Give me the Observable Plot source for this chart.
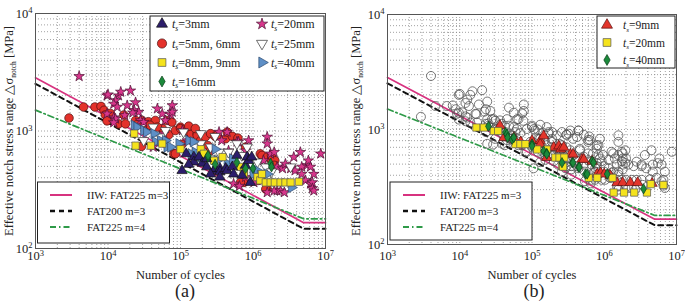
<!DOCTYPE html>
<html><head><meta charset="utf-8">
<script src="https://cdn.jsdelivr.net/npm/d3@7"></script>
<script src="https://cdn.jsdelivr.net/npm/@observablehq/plot@0.6"></script>
<style>
body{margin:0;background:#fff;font-family:"Liberation Serif","Times New Roman",serif;color:#222}
#fig{position:relative;width:685px;height:305px;overflow:hidden}
.panel{position:absolute;top:0}
.panel text{font-family:"Liberation Serif","Times New Roman",serif}
.cap{position:absolute;top:281px;width:100px;text-align:center;font-size:18px;line-height:20px}
</style></head>
<body><div id="fig"></div>
<script>
// ---------- axis ticks ----------
const xTicks = [1e3, 1e4, 1e5, 1e6, 1e7];
const yTicks = [1e2, 1e3, 1e4];

// ---------- design curves (N, stress range) ----------
const iiwFat225m3 = [[1e3, 2835], [5e6, 166], [1e7, 166]];
const fat200m3   = [[1e3, 2520], [5e6, 147], [1e7, 147]];
const fat225m4   = [[1e3, 1505], [5e6, 179], [1e7, 179]];
const curveLabels = ["IIW: FAT225 m=3", "FAT200 m=3", "FAT225 m=4"];

// ---------- panel (a) data: [cycles, stress] ----------
const ts3 = [[1.05e5,460],[1.2e5,640],[1.53e5,600],[1.53e5,545],[1.8e5,600],[2.0e5,530],[2.3e5,580],[2.3e5,495],[2.9e5,460],[3.0e5,480],[3.5e5,480],[3.5e5,450],[4.2e5,480],[4.4e5,460],[5.2e5,495],[5.4e5,430],[6.0e5,620],[7.1e5,420],[7.9e5,510],[8.3e5,600],[8.7e5,560],[9.2e5,365],[9.6e5,600],[3.5e5,405],[1.3e5,520],[2.6e5,430]];
const ts56 = [[2.9e3,1290],[4.6e3,1600],[6.6e3,1600],[8.0e3,1620],[8.8e3,1500],[9.2e3,1370],[1.08e4,1410],[9.7e3,1220],[1.65e4,1370],[1.4e4,1150],[1.74e4,1150],[2.4e4,1230],[2.95e4,1230],[3.6e4,1200],[4.5e4,1230],[6.5e4,1230],[7.6e4,1190],[5.6e4,1050],[3.3e4,1010],[2.5e4,1130],[3.8e4,1120],[4.8e4,1080],[2.9e4,740],[8.1e4,640],[8.5e4,640],[6.9e4,930],[8.5e4,1010],[1.0e5,1080],[1.0e5,1050],[1.2e5,1000],[1.4e5,940],[1.7e5,950],[1.7e5,920],[1.9e5,830],[2.2e5,890],[2.6e5,950],[3.0e5,900],[3.2e5,920],[4.2e5,860],[4.4e5,980],[5.2e5,900],[6.2e5,870],[2.4e5,750],[2.6e5,680],[1.05e5,770],[7.9e5,730],[1.26e6,640],[1.33e6,620],[1.57e6,600],[1.8e6,560],[1.8e6,620],[2.0e6,560],[1.96e6,510],[7.5e5,365],[6.7e5,365],[1.57e6,320],[1.5e6,320],[1.2e6,380],[1.3e5,1100],[1.6e5,1050]];
const ts89 = [[2.3e4,950],[2.4e4,750],[3.9e4,750],[5.6e4,780],[1.9e5,700],[2.1e5,640],[2.9e5,560],[6.7e5,495],[7.5e5,460],[7.5e5,430],[1.15e6,405],[1.26e6,380],[1.33e6,430],[1.5e6,365],[1.75e6,365],[2.0e6,365],[2.4e6,365],[2.8e6,365],[3.3e6,365],[4.3e6,370],[1.0e5,700],[3.8e5,600]];
const ts16 = [[2.4e5,600],[2.4e5,620],[7.9e5,480],[1.0e6,480],[1.75e6,530],[1.8e6,495],[3.0e5,520],[6.0e5,540]];
const ts20 = [[4.0e3,2920],[9.7e3,2000],[1.0e4,2040],[1.4e4,2000],[1.5e4,2150],[2.04e4,2200],[1.27e4,1820],[1.2e4,1700],[1.34e4,1600],[1.84e4,1650],[2.4e4,1750],[2.3e4,1500],[2.65e4,1450],[2.2e4,1430],[9.7e3,1400],[1.2e4,1300],[1.27e4,1270],[1.2e4,1180],[1.7e4,1360],[2.8e4,1230],[3.1e4,1190],[4.8e4,1550],[5.6e4,1400],[7.3e4,1380],[7.7e4,1650],[7.7e4,1450],[6.2e4,1230],[5.9e4,950],[4.2e4,730],[1.06e5,1010],[1.24e5,830],[2.0e5,600],[3.4e5,980],[4.4e5,980],[3.7e5,830],[4.6e5,680],[6.0e5,810],[6.3e5,810],[7.9e5,680],[8.7e5,830],[1.57e6,890],[1.57e6,780],[1.75e6,640],[1.96e6,660],[1.4e6,560],[2.15e6,495],[2.55e6,480],[2.8e6,525],[3.3e6,480],[3.65e6,600],[4.5e6,660],[5.5e6,510],[5.8e6,560],[6.2e6,495],[4.7e6,495],[3.8e6,460],[4.7e6,430],[6.9e6,430],[5.3e6,380],[6.2e6,355],[6.6e6,365],[6.6e6,325],[8.6e6,640],[2.15e6,310],[1.96e6,310],[2.4e6,310],[1.57e6,300],[2.7e6,300],[6.9e6,310],[1.03e6,365],[7.9e5,405],[5.4e5,355],[6.5e5,340]];
const ts25 = [[3.1e4,830],[5.3e4,890],[4.2e4,1080],[6.2e4,1010],[1.1e5,980],[1.6e5,730],[1.9e5,950],[1.9e5,780],[2.6e5,730],[2.7e5,580],[3.4e5,660],[4.6e5,660],[6.0e5,780],[8.3e5,730],[9.2e5,530],[1.15e6,545],[1.5e6,495],[1.57e6,405],[1.8e6,450],[3.3e6,495],[3.0e5,900],[7.0e5,620]];
const ts40 = [[2.3e4,1120],[2.5e4,1080],[3.1e4,1010],[3.4e4,980],[4.3e4,950],[4.5e4,810],[5.3e4,830],[6.2e4,830],[6.5e4,730],[7.3e4,730],[9.5e4,780],[1.3e5,830],[1.4e5,640],[1.5e5,810],[1.6e5,660],[1.9e5,600],[3.0e5,700],[3.2e5,560],[4.4e5,530],[5.2e5,580],[1.0e6,430],[1.15e6,460],[1.26e6,420],[1.57e6,430],[3.4e6,330]];

// ---------- panel (b) highlighted data ----------
const b9 = [[3.6e4,1080],[4.1e4,850],[5.6e4,850],[7.0e4,780],[1.0e5,800],[1.3e5,800],[1.3e5,746],[1.45e5,880],[1.6e5,570],[2.0e5,700],[2.35e5,720],[2.5e5,675],[2.75e5,700],[3.4e5,610],[3.7e5,610],[4.9e5,550],[5.2e5,550],[6.8e5,530],[8.0e5,410],[8.9e5,420],[1.0e6,410],[1.2e6,400],[1.5e6,345],[1.8e6,345],[2.3e6,345],[2.9e6,345],[4.6e6,340]];
const b20 = [[1.7e4,1040],[2.15e4,1040],[2.96e4,970],[3.4e4,970],[5.9e4,746],[6.9e4,746],[8.1e4,746],[1.18e5,670],[1.6e5,670],[2.1e5,570],[2.4e5,570],[2.8e5,570],[2.6e5,480],[2.7e5,475],[6.1e5,380],[8.0e5,380],[1.3e6,380],[1.35e6,283],[1.88e6,283],[2.6e6,283],[3.9e6,283],[4.4e6,335],[6.6e6,330]];
const b40 = [[2.5e4,1065],[4.3e4,940],[4.5e4,910],[4.6e4,850],[5.3e4,820],[5.6e4,850],[1.0e5,750],[1.0e5,720],[1.45e5,650],[1.6e5,620],[1.6e5,610],[2.6e5,515],[3.6e5,515],[3.7e5,515],[4.4e5,470],[4.5e5,470],[5.5e5,410],[5.8e5,410],[6.8e5,530],[7.1e5,515],[1.1e6,410],[3.5e6,305]];

// ---------- symbols ----------
const S3 = Math.sqrt(3);
const triDown = {draw(c, s){const y = Math.sqrt(s/(3*S3)); c.moveTo(0,2*y); c.lineTo(-S3*y,-y); c.lineTo(S3*y,-y); c.closePath();}};
const triRight = {draw(c, s){const y = Math.sqrt(s/(3*S3)); c.moveTo(2*y,0); c.lineTo(-y,-S3*y); c.lineTo(-y,S3*y); c.closePath();}};

const seriesA = [
  {data: ts56, label: "5mm, 6mm", symbol: d3.symbolCircle, r: 4.3, fill: "#e4322b", stroke: "#4a0e0e"},
  {data: ts20, label: "20mm", symbol: d3.symbolStar, r: 3.3, fill: "#d8368c", stroke: "#4a1030"},
  {data: ts25, label: "25mm", symbol: triDown, r: 3.8, fill: "#ffffff", stroke: "#333"},
  {data: ts40, label: "40mm", symbol: triRight, r: 3.8, fill: "#5e8fc6", stroke: "#2e4a70"},
  {data: ts89, label: "8mm, 9mm", symbol: d3.symbolSquare, r: 4.1, fill: "#f5e31c", stroke: "#555"},
  {data: ts3, label: "3mm", symbol: d3.symbolTriangle, r: 3.8, fill: "#2c1d6b", stroke: "#111"},
  {data: ts16, label: "16mm", symbol: d3.symbolDiamond, r: 3.1, fill: "#1b8a3b", stroke: "#0b3d1a"}
];
const seriesB = [
  {data: b9, label: "9mm", symbol: d3.symbolTriangle, r: 3.8, fill: "#e3352b", stroke: "#5a1010"},
  {data: b20, label: "20mm", symbol: d3.symbolSquare, r: 4.1, fill: "#f5e31c", stroke: "#555"},
  {data: b40, label: "40mm", symbol: d3.symbolDiamond, r: 3.1, fill: "#1b8a3b", stroke: "#0b3d1a"}
];
const allA = [].concat(ts3, ts56, ts89, ts16, ts20, ts25, ts40);

const curves = [
  {data: iiwFat225m3, stroke: "#d7327f", width: 1.7, dash: null},
  {data: fat200m3, stroke: "#111", width: 2, dash: "5,4"},
  {data: fat225m4, stroke: "#2e9a48", width: 1.7, dash: "6,3,1.5,3"}
];

const SERIF = "Liberation Serif, Times New Roman, serif";
const xGrid = d3.scaleLog().domain([1e3,1e7]).ticks().filter(v => v > 1e3 && v < 1e7);
const yGrid = d3.scaleLog().domain([1e2,1e4]).ticks().filter(v => v > 1e2 && v < 1e4);
const pow = d => "10^" + Math.round(Math.log10(d));

function makePanel(cfg){
  const marks = [
    Plot.gridX(xGrid, {stroke: "#8a8a8a", strokeOpacity: 1, strokeWidth: 0.8, strokeDasharray: "1,2"}),
    Plot.gridY(yGrid, {stroke: "#8a8a8a", strokeOpacity: 1, strokeWidth: 0.8, strokeDasharray: "1,2"}),
    Plot.axisX(xTicks, {tickSize: 0, tickPadding: cfg.xPad, tickFormat: pow, label: "Number of cycles", labelAnchor: "center", labelArrow: "none", labelOffset: cfg.labelOffset, fontSize: 12.5}),
    Plot.axisY(yTicks, {tickSize: 0, tickPadding: 3, tickFormat: pow, label: null, fontSize: 12.5}),
    ...curves.map(c => Plot.line(c.data, {x: d => d[0], y: d => d[1], stroke: c.stroke, strokeWidth: c.width, strokeDasharray: c.dash})),
    ...cfg.dots,
    Plot.frame({stroke: "#555", strokeWidth: 1})
  ];
  const svg = Plot.plot({
    width: cfg.width, height: 280,
    marginLeft: cfg.ml, marginRight: cfg.mr, marginTop: cfg.mt, marginBottom: cfg.mb,
    style: {background: "transparent", fontFamily: SERIF, fontSize: "12px", color: "#222", overflow: "visible"},
    x: {type: "log", domain: [1e3, 1e7]},
    y: {type: "log", domain: [1e2, 1e4]},
    marks
  });
  const s = d3.select(svg).attr("font-family", SERIF);
  // superscript exponents on tick labels
  s.selectAll('g[aria-label$="tick label"] text').each(function(){
    const m = /^10\^(\d)$/.exec(this.textContent);
    if (!m) return;
    const el = d3.select(this);
    el.text("10");
    el.append("tspan").attr("dy", "-0.5em").attr("font-size", "8.5px").text(m[1]);
  });
  // y label with subscript
  const yl = s.append("text")
    .attr("transform", `translate(${cfg.yLabelX},${cfg.yLabelY}) rotate(-90)`)
    .attr("text-anchor", "middle").attr("font-size", 12.5).attr("fill", "#222");
  yl.append("tspan").text("Effective notch stress range \u25B3\u03C3");
  yl.append("tspan").attr("font-size", 7.5).attr("dy", 3).text("notch");
  yl.append("tspan").attr("dy", -3).text(" [MPa]");
  return svg;
}

function label(g, x, y, txt, size){
  const t = g.append("text").attr("x", x).attr("y", y).attr("dy", "0.35em").attr("text-anchor", "start").attr("font-size", size).attr("fill", "#222");
  t.append("tspan").attr("font-style", "italic").text("t");
  t.append("tspan").attr("font-style", "italic").attr("font-size", size*0.62).attr("dy", 2.5).text("s");
  t.append("tspan").attr("dy", -2.5).text("=" + txt);
}

function markerLegend(svg, box, items, pos, size){
  const g = d3.select(svg).append("g");
  g.append("rect").attr("x", box[0]).attr("y", box[1]).attr("width", box[2]).attr("height", box[3])
    .attr("fill", "#fff").attr("stroke", "#222").attr("stroke-width", 1);
  items.forEach((it, i) => {
    const [sx, tx, y] = pos[i];
    g.append("path").attr("transform", `translate(${sx},${y})`)
      .attr("d", d3.symbol(it.symbol, Math.PI*it.r*it.r*1.15)())
      .attr("fill", it.fill).attr("stroke", it.stroke).attr("stroke-width", 0.7);
    label(g, tx, y, it.label, size);
  });
}

function lineLegend(svg, box, x0, x1, tx, rows){
  const g = d3.select(svg).append("g");
  g.append("rect").attr("x", box[0]).attr("y", box[1]).attr("width", box[2]).attr("height", box[3])
    .attr("fill", "#fff").attr("stroke", "#222").attr("stroke-width", 1);
  curves.forEach((c, i) => {
    g.append("line").attr("x1", x0).attr("x2", x1).attr("y1", rows[i]).attr("y2", rows[i])
      .attr("stroke", c.stroke).attr("stroke-width", c.width + 0.3).attr("stroke-dasharray", c.dash);
    g.append("text").attr("x", tx).attr("y", rows[i]).attr("dy", "0.35em").attr("text-anchor", "start")
      .attr("font-size", 11).attr("fill", "#222").text(curveLabels[i]);
  });
}

const dot = s => Plot.dot(s.data, {x: d => d[0], y: d => d[1], symbol: s.symbol, r: s.r, fill: s.fill, stroke: s.stroke, strokeWidth: 0.7});

const fig = document.getElementById("fig");

// panel (a)
const svgA = makePanel({width: 342, ml: 35, mr: 17, mt: 13, mb: 32, xPad: 3, labelOffset: 30, yLabelX: 13, yLabelY: 131, dots: seriesA.map(dot)});
const byLabel = Object.fromEntries(seriesA.map(s => [s.label, s]));
const legA = ["3mm", "5mm, 6mm", "8mm, 9mm", "16mm", "20mm", "25mm", "40mm"].map(k => byLabel[k]);
markerLegend(svgA, [150, 16, 174, 75], legA,
  [[162,172,24],[162,172,43.5],[162,172,62.5],[162,172,81.5],[262,271,24],[262,271,43.5],[262,271,62.5]], 12);
lineLegend(svgA, [37.5, 182, 132, 61], 50, 72, 87, [195, 211, 227]);
svgA.classList.add("panel"); svgA.style.left = "0px";
fig.appendChild(svgA);

// panel (b)
const hollow = Plot.dot(allA, {x: d => d[0], y: d => d[1], r: 4.5, fill: "none", stroke: "#555", strokeWidth: 0.8});
const svgB = makePanel({width: 343, ml: 45, mr: 9, mt: 14, mb: 36, xPad: 7, labelOffset: 34, yLabelX: 18, yLabelY: 131, dots: [hollow, ...seriesB.map(dot)]});
markerLegend(svgB, [255, 16, 78, 52], seriesB, [[265,281,25],[265,281,42.5],[265,281,60]], 11.5);
lineLegend(svgB, [48, 182, 142, 58], 61, 83, 98, [195, 211, 227]);
svgB.classList.add("panel"); svgB.style.left = "342px";
fig.appendChild(svgB);

// captions
const capA = document.createElement("div"); capA.className = "cap"; capA.style.left = "135px"; capA.textContent = "(a)"; fig.appendChild(capA);
const capB = document.createElement("div"); capB.className = "cap"; capB.style.left = "484px"; capB.textContent = "(b)"; fig.appendChild(capB);
</script></body></html>
